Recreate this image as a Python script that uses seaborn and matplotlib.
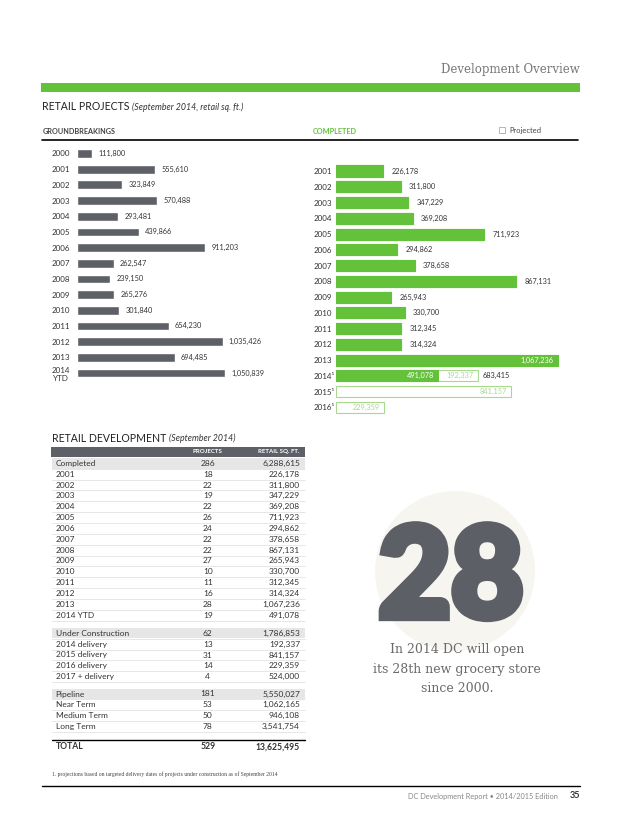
import numpy as np
import pandas as pd
import matplotlib
matplotlib.use("Agg")
import matplotlib.pyplot as plt
import matplotlib.patheffects as pe
import seaborn as sns
from matplotlib.patches import Rectangle, Circle

# groundbreakings, retail sq. ft.
gb_years = ["2000", "2001", "2002", "2003", "2004", "2005", "2006", "2007",
            "2008", "2009", "2010", "2011", "2012", "2013", "2014\nYTD"]
gb_sqft = [111800, 555610, 323849, 570488, 293481, 439866, 911203, 262547,
           239150, 265276, 301840, 654230, 1035426, 694485, 1050839]

# completed + projected deliveries, retail sq. ft.
done_years = ["2001", "2002", "2003", "2004", "2005", "2006", "2007", "2008",
              "2009", "2010", "2011", "2012", "2013", "2014\u00b9", "2015\u00b9", "2016\u00b9"]
done_sqft = [226178, 311800, 347229, 369208, 711923, 294862, 378658, 867131,
             265943, 330700, 312345, 314324, 1067236, 491078, 0, 0]
proj_sqft = [0, 0, 0, 0, 0, 0, 0, 0, 0, 0, 0, 0, 0, 192337, 841157, 229359]

# retail development table
completed_rows = ["2001", "2002", "2003", "2004", "2005", "2006", "2007", "2008",
                  "2009", "2010", "2011", "2012", "2013", "2014 YTD"]
completed_proj = [18, 22, 19, 22, 26, 24, 22, 22, 27, 10, 11, 16, 28, 19]
completed_sqft = [226178, 311800, 347229, 369208, 711923, 294862, 378658, 867131,
                  265943, 330700, 312345, 314324, 1067236, 491078]
uc_rows = ["2014 delivery", "2015 delivery", "2016 delivery", "2017 + delivery"]
uc_proj = [13, 31, 14, 4]
uc_sqft = [192337, 841157, 229359, 524000]
pipe_rows = ["Near Term", "Medium Term", "Long Term"]
pipe_proj = [53, 50, 78]
pipe_sqft = [1062165, 946108, 3541754]
section_names = ["Completed", "Under Construction", "Pipeline"]
section_proj = [286, 62, 181]
section_sqft = [6288615, 1786853, 5550027]
total_proj = 529
total_sqft = 13625495

GREEN = "#63c23a"
LIGHT_GREEN = "#a8d98f"
GRAY = "#5e6068"
TEXT = "#333333"

sns.set_style("white")
plt.rcParams["font.family"] = ["Lato", "DejaVu Sans"]
SERIF = ["DejaVu Serif"]

W, H = 639, 832
fig = plt.figure(figsize=(W / 100, H / 100), dpi=100)
fig.patch.set_facecolor("white")

# page layer in pixel units
page = fig.add_axes([0, 0, 1, 1])
page.set_xlim(0, W)
page.set_ylim(H, 0)
page.axis("off")


def px_axes(left, top, right, bottom):
    ax = fig.add_axes([left / W, 1 - bottom / H, (right - left) / W, (bottom - top) / H])
    ax.set_facecolor("none")
    return ax


def after(artist, gap):
    fig.canvas.draw()
    return artist.get_window_extent().x1 + gap


# header
page.text(580, 69, "Development Overview", ha="right", va="center",
          family=SERIF, fontsize=8.5, color="#777777")
page.add_patch(Rectangle((41, 83), 539, 9, color=GREEN, lw=0))
t = page.text(42, 107, "RETAIL PROJECTS", ha="left", va="center", fontsize=7.6, color="#222222")
page.text(after(t, 3), 107.5, "(September 2014, retail sq. ft.)", ha="left", va="center",
          fontsize=6.3, style="italic", color="#333333")
page.text(43, 131, "GROUNDBREAKINGS", ha="left", va="center", fontsize=5.2,
          color="#444444", weight="bold")
page.text(313, 131, "COMPLETED", ha="left", va="center", fontsize=5.2,
          color=GREEN, weight="bold")
page.add_patch(Rectangle((499, 127), 6, 6, facecolor="white", edgecolor="#999999", lw=0.5))
page.text(509, 130, "Projected", ha="left", va="center", fontsize=5.4, color="#444444")
page.plot([42, 578], [140, 140], color="black", lw=1.2)

# groundbreakings chart
step_l = (373 - 153.5) / 14
axl = px_axes(76.7, 153.5 - step_l / 2, 300, 373 + step_l / 2)
sns.barplot(x=gb_sqft, y=gb_years, orient="h", color=GRAY, saturation=1,
            width=0.56, ax=axl)
axl.set_xlim(0, 223.3 * 7100)
axl.set_ylim(len(gb_years) - 0.5, -0.5)
axl.bar_label(axl.containers[0], labels=[f"{v:,}" for v in gb_sqft],
              padding=4.5, fontsize=5.3, color=TEXT)
axl.tick_params(axis="y", length=0, pad=24.7 * 0.72, labelsize=5.8, labelcolor=TEXT)
for lab in axl.get_yticklabels():
    lab.set_horizontalalignment("left")
    lab.set_multialignment("center")
axl.tick_params(axis="x", bottom=False, labelbottom=False)
axl.set_xlabel("")
axl.set_ylabel("")
sns.despine(ax=axl, left=True, bottom=True)

# completed chart
step_r = (407.5 - 171) / 15
axr = px_axes(336, 171 - step_r / 2, 580, 407.5 + step_r / 2)
totals = [d + p for d, p in zip(done_sqft, proj_sqft)]
sns.barplot(x=totals, y=done_years, orient="h", color="white", saturation=1,
            edgecolor=LIGHT_GREEN, linewidth=0.8, width=0.7, ax=axr)
sns.barplot(x=done_sqft, y=done_years, orient="h", color=GREEN, saturation=1,
            edgecolor=GREEN, linewidth=0.8, width=0.7, ax=axr)
for p in axr.patches:
    if p.get_width() == 0:
        p.set_linewidth(0)
axr.set_xlim(0, 244 * 4814)
axr.set_ylim(len(done_years) - 0.5, -0.5)
for i, (d, p) in enumerate(zip(done_sqft, proj_sqft)):
    if p == 0 and i < 12:
        axr.annotate(f"{d:,}", xy=(d, i), xytext=(6, 0), textcoords="offset points",
                     ha="left", va="center", fontsize=5.3, color=TEXT)
    elif p == 0:
        axr.annotate(f"{d:,}", xy=(d, i), xytext=(-3, 0), textcoords="offset points",
                     ha="right", va="center", fontsize=5.3, color="white")
    else:
        if d > 0:
            axr.annotate(f"{d:,}", xy=(d, i), xytext=(-3, 0), textcoords="offset points",
                         ha="right", va="center", fontsize=5.3, color="white")
            axr.annotate(f"{d + p:,}", xy=(d + p, i), xytext=(3, 0), textcoords="offset points",
                         ha="left", va="center", fontsize=5.3, color=TEXT)
        axr.annotate(f"{p:,}", xy=(d + p, i), xytext=(-3, 0), textcoords="offset points",
                     ha="right", va="center", fontsize=5.3, color=LIGHT_GREEN)
axr.tick_params(axis="y", length=0, pad=22 * 0.72, labelsize=5.8, labelcolor=TEXT)
for lab in axr.get_yticklabels():
    lab.set_horizontalalignment("left")
axr.tick_params(axis="x", bottom=False, labelbottom=False)
axr.set_xlabel("")
axr.set_ylabel("")
sns.despine(ax=axr, left=True, bottom=True)

# retail development table
t = page.text(52, 438, "RETAIL DEVELOPMENT", ha="left", va="center", fontsize=7.6, color="#222222")
page.text(after(t, 3), 438.5, "(September 2014)", ha="left", va="center",
          fontsize=6.3, style="italic", color="#333333")
page.add_patch(Rectangle((51, 447), 254, 9.5, color=GRAY, lw=0))
page.text(207.7, 451.7, "PROJECTS", ha="center", va="center",
          fontsize=4.4, weight="bold", color="white")
page.text(300, 451.7, "RETAIL SQ. FT.", ha="right", va="center",
          fontsize=4.4, weight="bold", color="white")

row_h = 10.85
sections = [
    (463.3, completed_rows, completed_proj, completed_sqft),
    (633.3, uc_rows, uc_proj, uc_sqft),
    (694.0, pipe_rows, pipe_proj, pipe_sqft),
]


def table_row(y, label, nproj, sqft, weight="normal", size=6.0):
    page.text(55.5, y, label, ha="left", va="center", fontsize=size,
              color=TEXT, weight=weight)
    page.text(207.7, y, f"{nproj:,}", ha="center", va="center",
              fontsize=size, color=TEXT, weight=weight)
    page.text(300, y, f"{sqft:,}", ha="right", va="center",
              fontsize=size, color=TEXT, weight=weight)


for k, (y0, labels, nproj, sqft) in enumerate(sections):
    page.add_patch(Rectangle((52, y0 - 5.2), 253, 10.4, color="#e6e6e6", lw=0))
    table_row(y0, section_names[k], section_proj[k], section_sqft[k])
    for j, (lab, n, s) in enumerate(zip(labels, nproj, sqft)):
        y = y0 + (j + 1) * row_h
        page.plot([52, 305], [y - row_h / 2, y - row_h / 2], color="#d4d4d4", lw=0.4)
        table_row(y, lab, n, s)
    page.plot([52, 305], [y + row_h / 2, y + row_h / 2], color="#d4d4d4", lw=0.4)

page.plot([52, 305], [740.3, 740.3], color="black", lw=1.0)
table_row(746.7, "TOTAL", total_proj, total_sqft, weight="bold", size=6.2)
page.text(52.5, 773.7,
          "1. projections based on targeted delivery dates of projects under construction as of September 2014",
          ha="left", va="center", family=["Liberation Serif"], fontsize=4.1, color="#444444")

# callout
page.add_patch(Circle((455, 571), 80, color="#f6f5ef", lw=0))
page.text(451, 617, "28", ha="center", va="baseline", fontsize=90, weight="black",
          color="#5d5f66",
          path_effects=[pe.withStroke(linewidth=6, foreground="#5d5f66", joinstyle="miter")])
for y, line in zip([649, 669, 689], ["In 2014 DC will open", "its 28th new grocery store", "since 2000."]):
    page.text(457, y, line, ha="center", va="center", family=SERIF, fontsize=9,
              color="#6a6a6a")

# footer
page.plot([42, 580], [786, 786], color="black", lw=1.0)
page.text(558, 796, "DC Development Report \u2022 2014/2015 Edition", ha="right", va="center",
          fontsize=5.3, color="#888888")
page.text(580, 796, "35", ha="right", va="center", fontsize=6.5, weight="bold", color="#333333")

fig.savefig("out.png", dpi=100)
